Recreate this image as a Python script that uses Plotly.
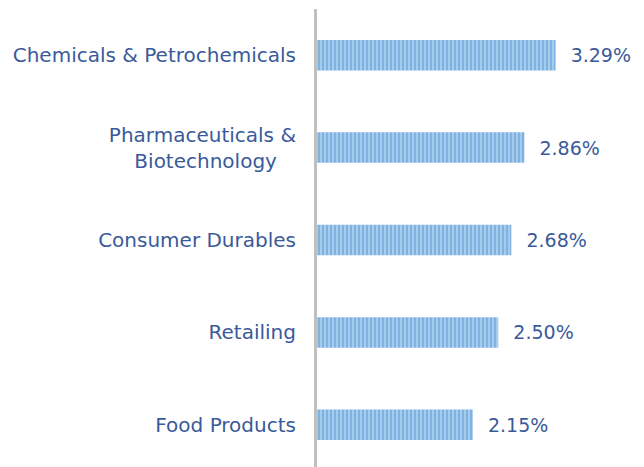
import plotly.graph_objects as go

categories = ["Chemicals & Petrochemicals",
              "Pharmaceuticals &<br>Biotechnology" + "\u00a0" * 3,
              "Consumer Durables", "Retailing", "Food Products"]
values = [3.29, 2.86, 2.68, 2.50, 2.15]

FONT = "DejaVu Sans"
COLOR = "#3A5A9A"

fig = go.Figure(go.Bar(
    x=values, y=categories, orientation="h",
    marker=dict(color="#A9CDEE", line=dict(width=0),
                pattern=dict(shape="|", fgcolor="#5897D3", bgcolor="#A9CDEE",
                             size=4, solidity=0.55)),
    texttemplate="  %{x:.2f}%", textposition="outside", cliponaxis=False,
    textfont=dict(color=COLOR, size=19, family=FONT),
))
fig.update_layout(
    width=644, height=467, margin=dict(l=309, r=0, t=1, b=4),
    plot_bgcolor="white", paper_bgcolor="white", bargap=0.67,
    showlegend=False,
    font=dict(family=FONT, size=20, color=COLOR),
)
fig.update_xaxes(range=[0, 4.62], visible=False)
fig.update_yaxes(autorange="reversed", showline=True, linecolor="#BFBFBF", linewidth=3,
                 ticks="", ticklabelstandoff=14, showgrid=False,
                 tickfont=dict(size=20))
fig.write_html("out.html")
